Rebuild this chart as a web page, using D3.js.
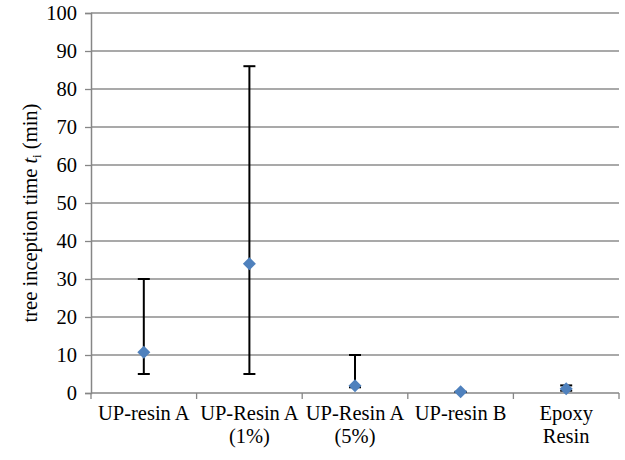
<!DOCTYPE html>
<html lang="en">
<head>
    <meta charset="UTF-8">
    <title>tree inception time</title>
    <script src="https://cdn.jsdelivr.net/npm/d3@7"></script>
</head>
<style>
    body { margin: 0; background: #fff; }
    svg text { font-family: "Liberation Serif", "Times New Roman", serif; font-size: 20.5px; fill: #000; }
</style>
<body>
<svg class="chart"></svg>
<script>
    // data
    var categories = [["UP-resin A"], ["UP-Resin A", "(1%)"], ["UP-Resin A", "(5%)"], ["UP-resin B"], ["Epoxy", "Resin"]]
    var values = [10.7, 34, 1.9, 0.3, 1.1]
    var lowBound = [5, 5, 1.5, 0.3, 0.6]   // lower end of error bar
    var highBound = [30, 86, 10, 0.3, 2]   // upper end of error bar
    var yTicks = [0, 10, 20, 30, 40, 50, 60, 70, 80, 90, 100]

    var W = 625, H = 460
    var pLeft = 91, pRight = 619, pTop = 13, pBottom = 393
    var serif = '"Liberation Serif", "Times New Roman", serif'

    var svg = d3.select('.chart').attr('width', W).attr('height', H)

    var x = d3.scaleBand().domain(d3.range(categories.length)).range([pLeft, pRight])
    var y = d3.scaleLinear().domain([0, 100]).range([pBottom, pTop])

    // gridlines
    svg.append('g')
        .selectAll('line')
        .data(yTicks.slice(1))
        .enter()
        .append('line')
        .attr('x1', pLeft).attr('x2', pRight)
        .attr('y1', function (d) { return y(d) }).attr('y2', function (d) { return y(d) })
        .attr('stroke', '#8c8c8c').attr('stroke-width', 1.3)

    // y axis
    var yAxis = d3.axisLeft(y).tickValues(yTicks).tickSize(6).tickPadding(8)
    var gy = svg.append('g').attr('transform', 'translate(' + pLeft + ',0)').call(yAxis)
        .attr('font-family', serif).attr('font-size', 20.5)
    gy.select('.domain').attr('stroke', '#868686').attr('stroke-width', 1.5)
    gy.selectAll('.tick line').attr('stroke', '#868686').attr('stroke-width', 1.3)
    gy.selectAll('.tick text').attr('fill', '#000')

    // x axis
    var xTickPos = d3.range(categories.length + 1).map(function (i) { return pLeft + i * x.step() })
    var gx = svg.append('g').attr('font-family', serif).attr('font-size', 20.5)
    gx.append('line')
        .attr('x1', pLeft).attr('x2', pRight).attr('y1', pBottom).attr('y2', pBottom)
        .attr('stroke', '#868686').attr('stroke-width', 1.5)
    gx.selectAll('.xt')
        .data(xTickPos)
        .enter()
        .append('line')
        .attr('class', 'xt')
        .attr('x1', function (d) { return d }).attr('x2', function (d) { return d })
        .attr('y1', pBottom).attr('y2', pBottom + 6)
        .attr('stroke', '#868686').attr('stroke-width', 1.3)

    var labels = gx.selectAll('.xl')
        .data(categories)
        .enter()
        .append('text')
        .attr('class', 'xl')
        .attr('text-anchor', 'middle')
        .attr('x', function (d, i) { return x(i) + x.bandwidth() / 2 })
        .attr('y', 420)
    labels.selectAll('tspan')
        .data(function (d) { return d })
        .enter()
        .append('tspan')
        .attr('x', function () { return d3.select(this.parentNode).attr('x') })
        .attr('dy', function (d, i) { return i === 0 ? 0 : 23 })
        .text(function (d) { return d })

    // error bars
    var cap = 6
    var eb = svg.append('g').attr('stroke', '#000').attr('stroke-width', 2)
    values.forEach(function (v, i) {
        var cx = x(i) + x.bandwidth() / 2
        var y1 = y(lowBound[i]), y2 = y(highBound[i])
        eb.append('line').attr('x1', cx).attr('x2', cx).attr('y1', y1).attr('y2', y2)
        eb.append('line').attr('x1', cx - cap).attr('x2', cx + cap).attr('y1', y1).attr('y2', y1)
        eb.append('line').attr('x1', cx - cap).attr('x2', cx + cap).attr('y1', y2).attr('y2', y2)
    })

    // diamond markers
    svg.append('g')
        .selectAll('path')
        .data(values)
        .enter()
        .append('path')
        .attr('d', 'M0,-6.5L6.5,0L0,6.5L-6.5,0Z')
        .attr('transform', function (d, i) { return 'translate(' + (x(i) + x.bandwidth() / 2) + ',' + y(d) + ')' })
        .attr('fill', '#4f81bd')

    // y label
    var yl = svg.append('text')
        .attr('font-family', serif)
        .attr('text-anchor', 'middle')
        .attr('transform', 'translate(37,' + ((pTop + pBottom) / 2 + 10) + ') rotate(-90)')
    yl.append('tspan').text('tree inception time ')
    yl.append('tspan').style('font-style', 'italic').text('t')
    yl.append('tspan').style('font-size', '13px').attr('dy', 4).text('i')
    yl.append('tspan').attr('dy', -4).text(' (min)')
</script>
</body>
</html>
